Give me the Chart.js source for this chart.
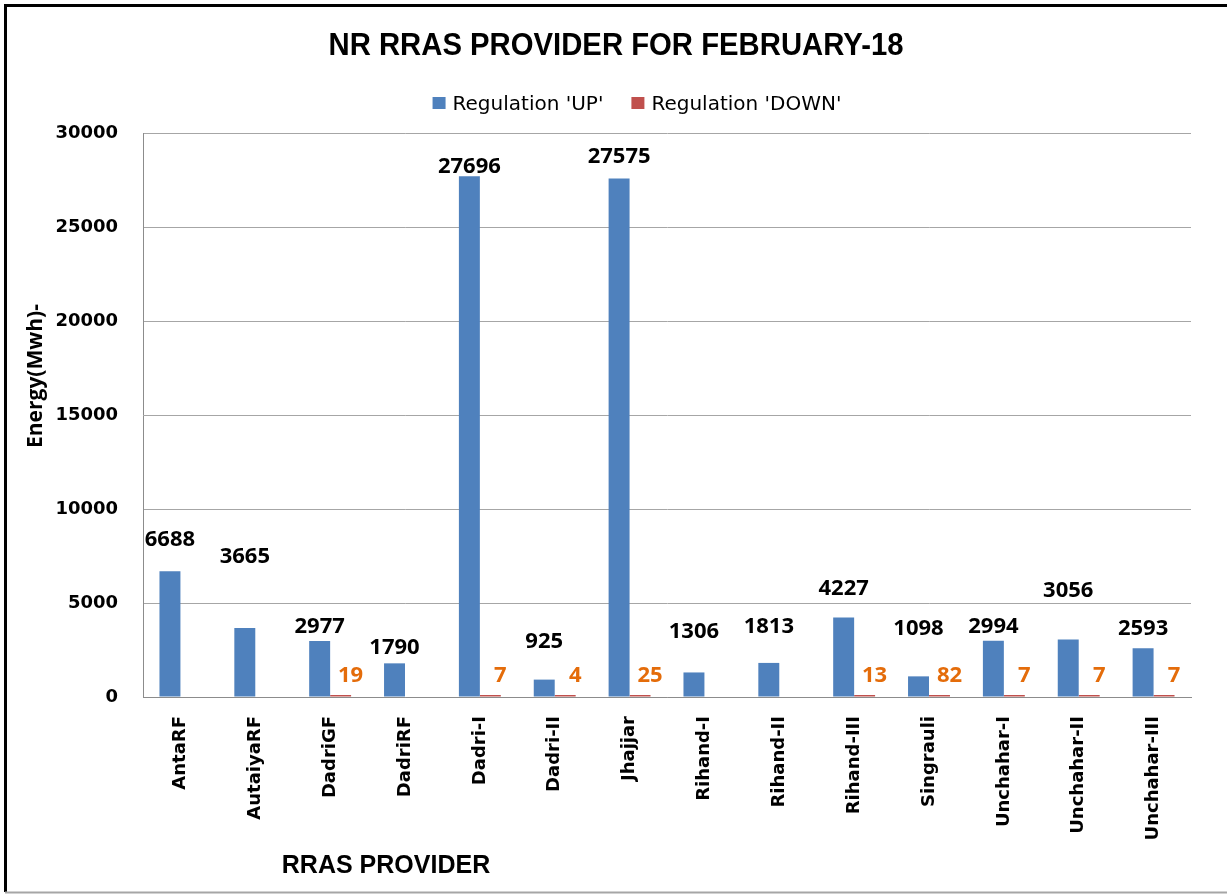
<!DOCTYPE html>
<html>
<head>
<meta charset="utf-8">
<title>NR RRAS PROVIDER FOR FEBRUARY-18</title>
<script src="https://cdn.jsdelivr.net/npm/chart.js@4.4.1/dist/chart.umd.min.js"></script>
<style>
  html, body { margin: 0; padding: 0; background: #fff; }
  #wrap { width: 1227px; height: 894px; }
</style>
</head>
<body>
<div id="wrap"><canvas id="chart" width="1227" height="894"></canvas></div>
<script>
// Data
const categories = ['AntaRF', 'AutaiyaRF', 'DadriGF', 'DadriRF', 'Dadri-I', 'Dadri-II', 'Jhajjar',
    'Rihand-I', 'Rihand-II', 'Rihand-III', 'Singrauli', 'Unchahar-I', 'Unchahar-II', 'Unchahar-III'];
const regulationUp = [6688, 3665, 2977, 1790, 27696, 925, 27575, 1306, 1813, 4227, 1098, 2994, 3056, 2593];
const regulationDown = [null, null, 19, null, 7, 4, 25, null, null, 13, 82, 7, 7, 7];
const yTickValues = [0, 5000, 10000, 15000, 20000, 25000, 30000];

const chartTitle = 'NR RRAS PROVIDER FOR FEBRUARY-18';
const yAxisTitle = 'Energy(Mwh)-';
const xAxisTitle = 'RRAS PROVIDER';

// how far each 'UP' label sits above its bar (the labels were dragged by hand in the original)
const upLabelLift = [33, 73, 16, 17, 11, 40, 24, 42, 38, 31, 49, 16, 51, 21];

const frame = {
    id: 'frame',
    beforeDraw(chart) {
        const ctx = chart.ctx;
        ctx.save();
        ctx.fillStyle = '#fff';
        ctx.fillRect(0, 0, chart.width, chart.height);
        ctx.strokeStyle = '#000';
        ctx.lineWidth = 3;
        ctx.beginPath();
        ctx.moveTo(4, 5.5); ctx.lineTo(chart.width, 5.5);
        ctx.moveTo(5.5, 4); ctx.lineTo(5.5, 892);
        ctx.stroke();
        ctx.strokeStyle = '#a6a6a6';
        ctx.lineWidth = 2;
        ctx.beginPath();
        ctx.moveTo(5, 892.5); ctx.lineTo(chart.width, 892.5);
        ctx.stroke();
        ctx.restore();
    }
};

const headings = {
    id: 'headings',
    afterDraw(chart) {
        const ctx = chart.ctx;
        ctx.save();
        ctx.fillStyle = '#000';
        ctx.textBaseline = 'alphabetic';

        // title (squeezed to the narrow width of the original font)
        ctx.textAlign = 'center';
        ctx.font = 'bold 32px "Liberation Sans", sans-serif';
        ctx.fillText(chartTitle, 616, 55, 575);

        // legend
        ctx.font = '20px "DejaVu Sans"';
        ctx.textAlign = 'left';
        const items = chart.data.datasets.map(ds => ({
            text: ds.label, color: ds.backgroundColor, w: ctx.measureText(ds.label).width
        }));
        const box = 13, gap = 7, between = 28;
        const total = items.reduce((s, it) => s + box + gap + it.w, 0) + between * (items.length - 1);
        let x = 637 - total / 2;
        items.forEach(it => {
            ctx.fillStyle = it.color;
            ctx.fillRect(x, 97, box, 12);
            ctx.fillStyle = '#000';
            ctx.fillText(it.text, x + box + gap, 110);
            x += box + gap + it.w + between;
        });

        // y axis title
        ctx.font = 'bold 21px "Open Sans"';
        ctx.textAlign = 'center';
        ctx.translate(42, 376);
        ctx.rotate(-Math.PI / 2);
        ctx.fillText(yAxisTitle, 0, 0);
        ctx.setTransform(1, 0, 0, 1, 0, 0);

        // x axis title
        ctx.font = 'bold 25px "Liberation Sans"';
        ctx.fillText(xAxisTitle, 386, 873);
        ctx.restore();
    }
};

const valueLabels = {
    id: 'valueLabels',
    afterDatasetsDraw(chart) {
        const ctx = chart.ctx;
        ctx.save();
        ctx.font = 'bold 22px "Open Sans"';
        ctx.textAlign = 'center';
        ctx.textBaseline = 'alphabetic';

        ctx.fillStyle = '#000';
        chart.getDatasetMeta(0).data.forEach((bar, i) => {
            const v = regulationUp[i];
            if (v == null) return;
            ctx.fillText(String(v), bar.x, bar.y - upLabelLift[i] + 8);
        });

        ctx.fillStyle = '#E46C0A';
        chart.getDatasetMeta(1).data.forEach((bar, i) => {
            const v = regulationDown[i];
            if (v == null) return;
            ctx.fillText(String(v), bar.x + 10, bar.y - 13);
        });
        ctx.restore();
    }
};

new Chart(document.getElementById('chart'), {
    type: 'bar',
    data: {
        labels: categories,
        datasets: [{
            label: "Regulation 'UP'",
            data: regulationUp,
            backgroundColor: '#4F81BD',
            categoryPercentage: 0.56,
            barPercentage: 1
        }, {
            label: "Regulation 'DOWN'",
            data: regulationDown,
            backgroundColor: '#C0504D',
            categoryPercentage: 0.56,
            barPercentage: 1,
            minBarLength: 2
        }]
    },
    options: {
        responsive: false,
        animation: false,
        devicePixelRatio: 1,
        layout: { padding: { top: 133, left: 0, right: 36, bottom: 0 } },
        plugins: {
            legend: { display: false },
            title: { display: false },
            tooltip: { enabled: false }
        },
        scales: {
            x: {
                afterFit: s => { s.height = 197; },
                grid: { display: false },
                border: { display: true, color: '#8c8c8c' },
                ticks: {
                    color: '#000',
                    font: { family: 'DejaVu Sans', size: 18, weight: 'bold' },
                    minRotation: 90,
                    maxRotation: 90,
                    autoSkip: false,
                    padding: 11
                }
            },
            y: {
                min: 0,
                max: 30000,
                afterBuildTicks: s => { s.ticks = yTickValues.map(value => ({ value })); },
                afterFit: s => { s.width = 143; },
                grid: { color: '#a6a6a6', drawTicks: false },
                border: { display: true, color: '#8c8c8c' },
                ticks: {
                    color: '#000',
                    font: { family: 'DejaVu Sans', size: 18, weight: 'bold' },
                    padding: 25,
                    callback: v => String(v)
                }
            }
        }
    },
    plugins: [frame, valueLabels, headings]
});
</script>
</body>
</html>
